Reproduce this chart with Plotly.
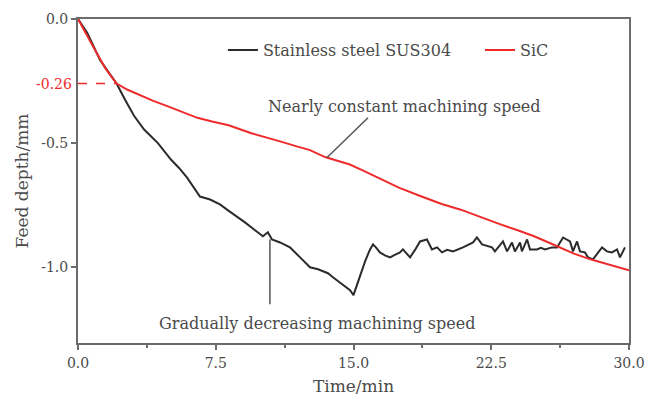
import plotly.graph_objects as go

# Feed depth vs time for two workpiece materials
sus_t = [0, 0.5, 1.2, 1.7, 2.1, 2.6, 3.05, 3.6, 4.35, 5.06, 5.5, 5.95, 6.3, 6.64,
         7.19, 7.73, 8.17, 8.66, 9.09, 9.64, 10.07, 10.34, 10.56, 11.0, 11.54, 12.09,
         12.63, 13.07, 13.34, 13.61, 13.88, 14.26, 14.59, 14.81, 15.0, 15.2, 15.35,
         15.5, 15.63, 15.9, 16.06, 16.22, 16.44, 16.71, 16.99, 17.25, 17.53, 17.69,
         17.9, 18.08, 18.35, 18.62, 19.0, 19.27, 19.55, 19.82, 20.1, 20.42, 20.96,
         21.51, 21.72, 22.0, 22.54, 22.7, 23.14, 23.36, 23.63, 23.79, 24.07, 24.17,
         24.45, 24.61, 24.99, 25.2, 25.43, 25.81, 26.08, 26.41, 26.79, 26.95, 27.17,
         27.33, 27.6, 27.77, 28.04, 28.26, 28.53, 28.8, 29.07, 29.35, 29.51, 29.78]
sus_depth = [0, -0.055, -0.165, -0.215, -0.26, -0.33, -0.39, -0.445, -0.5, -0.566,
             -0.6, -0.64, -0.68, -0.715, -0.727, -0.747, -0.771, -0.795, -0.819,
             -0.851, -0.875, -0.859, -0.888, -0.9, -0.92, -0.96, -1.0, -1.008, -1.016,
             -1.024, -1.04, -1.06, -1.08, -1.092, -1.112, -1.07, -1.036, -1.0, -0.976,
             -0.928, -0.908, -0.92, -0.94, -0.952, -0.96, -0.95, -0.94, -0.928, -0.945,
             -0.96, -0.93, -0.896, -0.888, -0.928, -0.92, -0.94, -0.93, -0.936, -0.92,
             -0.9, -0.88, -0.908, -0.92, -0.936, -0.896, -0.936, -0.9, -0.936, -0.9,
             -0.936, -0.888, -0.928, -0.928, -0.922, -0.928, -0.92, -0.92, -0.88,
             -0.896, -0.936, -0.896, -0.936, -0.94, -0.96, -0.968, -0.948, -0.92,
             -0.936, -0.94, -0.928, -0.96, -0.92]

sic_t = [0, 0.5, 1.0, 1.5, 2.1, 2.7, 3.3, 4.1, 4.9, 5.7, 6.5, 7.3, 8.2, 9.4, 10.2,
         11.0, 12.0, 12.6, 13.45, 14.2, 14.8, 15.5, 16.3, 17.0, 17.5, 18.6, 19.8,
         20.8, 21.8, 23.0, 23.9, 24.8, 25.5, 26.2, 27.0, 27.9, 28.8, 29.8, 30.0]
sic_depth = [0, -0.07, -0.135, -0.2, -0.26, -0.285, -0.305, -0.33, -0.352, -0.375,
             -0.398, -0.413, -0.428, -0.459, -0.475, -0.493, -0.515, -0.527, -0.556,
             -0.572, -0.586, -0.61, -0.638, -0.66, -0.68, -0.712, -0.745, -0.767,
             -0.795, -0.827, -0.85, -0.874, -0.896, -0.92, -0.945, -0.968, -0.988,
             -1.008, -1.012]

x_ticks = [0, 7.5, 15, 22.5, 30]
y_ticks = [0, -0.5, -1.0]
knee_t, knee_depth = 2.1, -0.26

FONT = "DejaVu Serif"
TXT = "#4a4a4a"
AX = "#6b6b6b"

fig = go.Figure()
fig.add_trace(go.Scatter(x=sus_t, y=sus_depth, mode="lines", name="Stainless steel SUS304",
                         line=dict(color="#2b2b2b", width=2), legend="legend",
                         showlegend=True))
fig.add_trace(go.Scatter(x=sic_t, y=sic_depth, mode="lines", name="SiC",
                         line=dict(color="#ee2a2a", width=2), legend="legend2",
                         showlegend=True))

# dashed marker of the slope change
fig.add_shape(type="line", x0=0, x1=knee_t, y0=knee_depth, y1=knee_depth,
              line=dict(color="#ee2a2a", width=1.5, dash="dash"))
fig.add_annotation(xref="paper", x=0, y=knee_depth, text=f"{knee_depth:.2f}",
                   showarrow=False, xanchor="right", xshift=-4,
                   font=dict(family=FONT, size=14, color="#ee2a2a"))

# leader lines for the two annotations
fig.add_shape(type="line", x0=13.56, y0=-0.558, x1=15.79, y1=-0.398,
              line=dict(color="#555555", width=1.5))
fig.add_annotation(x=17.75, y=-0.353, text="Nearly constant machining speed",
                   showarrow=False, font=dict(family=FONT, size=16, color=TXT))
fig.add_shape(type="line", x0=10.45, y0=-0.888, x1=10.45, y1=-1.149,
              line=dict(color="#555555", width=1.5))
fig.add_annotation(x=13.0, y=-1.225, text="Gradually decreasing machining speed",
                   showarrow=False, font=dict(family=FONT, size=16, color=TXT))

legend_style = dict(orientation="h", yanchor="middle", xanchor="left", y=0.904,
                    font=dict(family=FONT, size=16, color=TXT),
                    bgcolor="rgba(0,0,0,0)")
fig.update_layout(
    width=647, height=398,
    margin=dict(l=78, r=18, t=19, b=55),
    paper_bgcolor="white", plot_bgcolor="white",
    font=dict(family=FONT, color=TXT),
    showlegend=True,
    legend=dict(x=0.263, **legend_style),
    legend2=dict(x=0.7296, **legend_style),
)
fig.update_xaxes(range=[0, 30], tickvals=x_ticks, ticktext=[f"{v:.1f}" for v in x_ticks],
                 showline=True, mirror=True, linecolor=AX, linewidth=2,
                 ticks="outside", ticklen=5, tickwidth=1.5, tickcolor=AX,
                 minor=dict(dtick=3.75, tick0=0, ticks="outside", ticklen=3, tickcolor=AX),
                 showgrid=False, zeroline=False, ticklabelstandoff=1, automargin=False,
                 tickfont=dict(family=FONT, size=14, color=TXT),
                 title=dict(text="Time/min", font=dict(family=FONT, size=17, color=TXT), standoff=10))
fig.update_yaxes(range=[-1.305, 0], tickvals=y_ticks, ticktext=[f"{v:.1f}" for v in y_ticks],
                 showline=True, mirror=True, linecolor=AX, linewidth=2,
                 ticks="outside", ticklen=5, tickwidth=1.5, tickcolor=AX,
                 showgrid=False, zeroline=False, automargin=False,
                 tickfont=dict(family=FONT, size=14, color=TXT),
                 title=dict(text="Feed depth/mm", font=dict(family=FONT, size=17, color=TXT), standoff=8))

fig.write_html("out.html")
